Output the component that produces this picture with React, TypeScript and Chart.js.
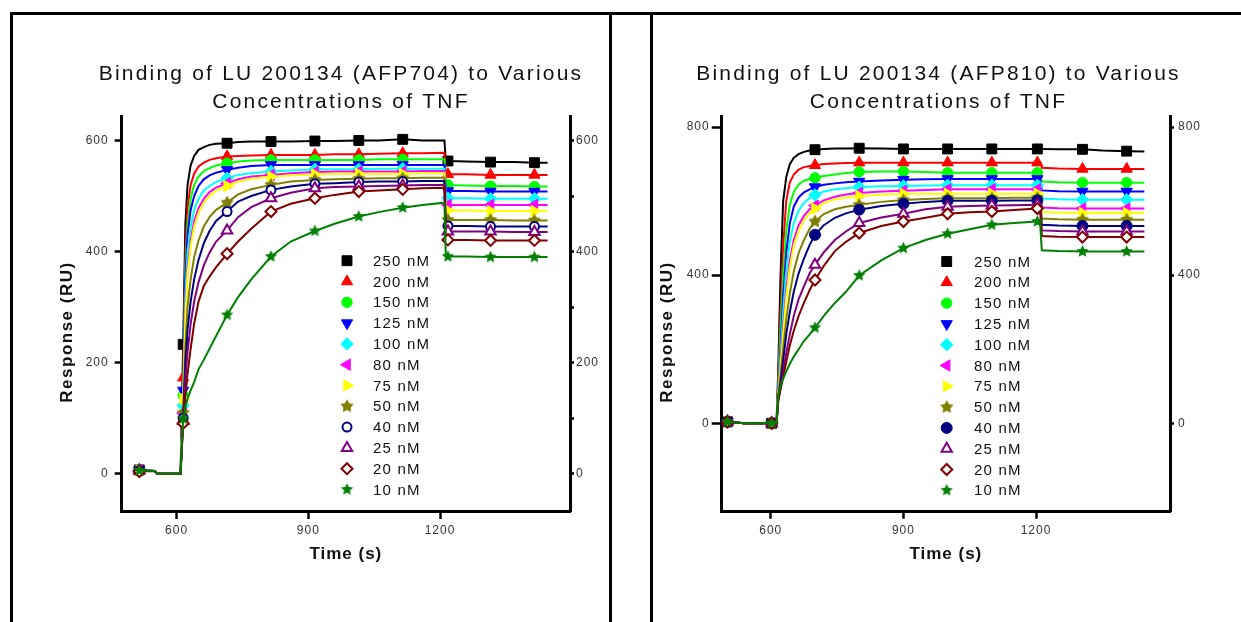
import React, { useEffect, useRef } from 'react';
import { Chart, registerables } from 'chart.js';
import { drawPoint } from 'chart.js/helpers';

Chart.register(...registerables);

const FONT = '"Liberation Sans", Arial, Helvetica, sans-serif';

// ---------- shared ----------
const concLabels = ['250 nM', '200 nM', '150 nM', '125 nM', '100 nM', '80 nM', '75 nM', '50 nM', '40 nM', '25 nM', '20 nM', '10 nM'];
const seriesColors = ['#000000', '#ff0000', '#00ff00', '#0000ff', '#00ffff', '#ff00ff', '#ffff00', '#808000', '#000080', '#800080', '#800000', '#008000'];
const xTickValues = [600, 900, 1200];
const xTitle = 'Time (s)';
const yTitle = 'Response (RU)';

// ---------- left chart: AFP704 ----------
const titleA = ['Binding of LU 200134 (AFP704) to Various', 'Concentrations of TNF'];
const timesA = [515, 550, 556, 609, 615, 620, 625, 632, 640, 650, 662, 675, 690, 715, 740, 770, 815, 860, 915, 960, 1015, 1060, 1115, 1160, 1210, 1213, 1218, 1260, 1315, 1370, 1415, 1445];
const markerTimesA = [515, 615, 715, 815, 915, 1015, 1115, 1218, 1315, 1415];
const a704_250 = [7, 5, 0, 0, 233, 450, 520, 555, 572, 583, 588, 592, 594, 595, 597, 598, 598, 598, 599, 599, 600, 600, 602, 600, 600, 565, 563, 562, 561, 561, 560, 560];
const a704_200 = [6, 5, 0, 0, 173, 400, 480, 520, 540, 553, 560, 565, 568, 571, 572, 573, 574, 574, 574, 575, 575, 576, 577, 577, 578, 541, 539, 539, 538, 538, 538, 538];
const a704_150 = [6, 5, 0, 0, 141, 370, 450, 495, 520, 535, 545, 550, 555, 559, 562, 564, 565, 565, 565, 565, 565, 566, 566, 566, 566, 522, 520, 519, 518, 518, 517, 517];
const a704_125 = [6, 5, 0, 0, 150, 350, 430, 475, 500, 518, 530, 537, 542, 547, 551, 554, 556, 556, 556, 556, 556, 556, 556, 556, 556, 511, 509, 509, 508, 508, 508, 508];
const a704_100 = [6, 5, 0, 0, 123, 320, 400, 445, 475, 495, 510, 518, 525, 532, 538, 541, 544, 546, 548, 548, 548, 549, 549, 549, 549, 498, 496, 496, 495, 495, 495, 495];
const a704_80 = [6, 5, 0, 0, 109, 290, 370, 420, 455, 478, 495, 507, 515, 523, 530, 535, 538, 541, 543, 544, 544, 544, 544, 545, 545, 486, 484, 484, 484, 484, 484, 484];
const a704_75 = [6, 5, 0, 0, 135, 280, 360, 410, 445, 470, 488, 500, 510, 518, 526, 531, 535, 537, 539, 540, 540, 540, 540, 541, 541, 476, 474, 474, 473, 473, 473, 473];
const a704_50 = [6, 5, 0, 0, 110, 230, 300, 350, 390, 420, 445, 462, 475, 488, 503, 512, 520, 526, 529, 530, 531, 532, 532, 533, 533, 459, 457, 457, 457, 456, 456, 456];
const a704_40 = [6, 5, 0, 0, 100, 200, 260, 310, 350, 385, 415, 437, 455, 472, 490, 500, 511, 517, 522, 523, 525, 526, 526, 527, 527, 448, 446, 446, 445, 445, 445, 445];
const a704_25 = [6, 5, 0, 0, 95, 170, 220, 270, 310, 345, 375, 398, 418, 438, 462, 480, 496, 506, 514, 516, 517, 518, 519, 520, 520, 438, 436, 436, 436, 435, 435, 435];
const a704_20 = [4, 5, 0, 0, 91, 140, 180, 225, 270, 310, 338, 355, 372, 396, 418, 441, 472, 486, 496, 502, 508, 510, 512, 514, 515, 423, 421, 421, 420, 420, 420, 420];
const a704_10 = [6, 5, 0, 0, 99, 120, 135, 150, 165, 188, 205, 225, 248, 286, 318, 350, 391, 418, 437, 450, 463, 471, 479, 484, 488, 393, 391, 391, 390, 390, 390, 390];
const yTicksA = [0, 200, 400, 600];
const y2TicksA = [0, 100, 200, 300, 400, 500, 600];
const y2LabelsA = [0, 200, 400, 600];

// ---------- right chart: AFP810 ----------
const titleB = ['Binding of LU 200134 (AFP810) to Various', 'Concentrations of TNF'];
const timesB = [502, 540, 602, 613, 617, 622, 628, 635, 643, 652, 663, 675, 688, 700, 720, 745, 770, 800, 850, 900, 950, 1000, 1050, 1100, 1150, 1203, 1209, 1213, 1250, 1305, 1350, 1405, 1445];
const markerTimesB = [502, 602, 700, 800, 900, 1000, 1100, 1203, 1305, 1405];
const b810_250 = [4, 0, 0, 0, 150, 400, 600, 665, 700, 717, 727, 733, 737, 739, 741, 742, 742, 743, 742, 741, 741, 741, 741, 741, 741, 741, 741, 741, 740, 740, 737, 735, 734];
const b810_200 = [4, 0, 0, 0, 120, 300, 480, 600, 650, 672, 685, 692, 695, 697, 700, 702, 703, 704, 704, 704, 704, 704, 704, 704, 704, 704, 704, 690, 688, 687, 687, 687, 687];
const b810_150 = [4, 0, 0, 0, 100, 250, 400, 520, 590, 625, 645, 655, 660, 663, 668, 672, 676, 679, 680, 680, 679, 677, 677, 677, 677, 677, 677, 653, 651, 650, 650, 650, 650];
const b810_125 = [4, 0, 0, 0, 90, 200, 340, 460, 540, 585, 610, 624, 632, 638, 644, 648, 651, 653, 656, 658, 659, 660, 660, 660, 660, 660, 660, 629, 627, 626, 626, 626, 626];
const b810_100 = [4, 0, 0, 0, 85, 180, 300, 410, 490, 540, 575, 595, 608, 617, 626, 632, 635, 638, 640, 641, 642, 643, 643, 643, 643, 643, 643, 607, 605, 604, 604, 604, 604];
const b810_80 = [4, 0, 0, 0, 80, 160, 260, 360, 440, 495, 535, 560, 578, 588, 602, 612, 618, 622, 626, 628, 630, 632, 632, 632, 632, 632, 632, 583, 581, 580, 580, 580, 580];
const b810_75 = [4, 0, 0, 0, 80, 150, 240, 340, 420, 480, 520, 548, 568, 580, 595, 605, 610, 614, 617, 620, 620, 620, 620, 620, 620, 620, 620, 571, 569, 568, 568, 568, 568];
const b810_50 = [4, 0, 0, 0, 75, 130, 200, 280, 350, 410, 460, 495, 525, 545, 565, 578, 585, 590, 598, 603, 606, 608, 608, 608, 609, 609, 609, 553, 551, 550, 550, 550, 550];
const b810_40 = [4, 0, 0, 0, 70, 110, 170, 240, 300, 355, 405, 445, 482, 509, 535, 555, 567, 577, 587, 593, 598, 601, 601, 601, 602, 602, 602, 536, 534, 533, 533, 533, 533];
const b810_25 = [4, 0, 0, 0, 65, 95, 140, 190, 240, 290, 335, 370, 405, 428, 462, 495, 518, 541, 556, 566, 578, 585, 587, 588, 589, 590, 590, 521, 519, 518, 518, 518, 518];
const b810_20 = [4, 0, 0, 0, 60, 90, 125, 165, 210, 250, 290, 325, 360, 387, 425, 465, 490, 514, 533, 545, 555, 566, 570, 572, 576, 580, 580, 506, 504, 503, 503, 503, 503];
const b810_10 = [4, 0, 0, 0, 77, 100, 120, 140, 160, 180, 200, 222, 240, 258, 290, 325, 355, 399, 440, 473, 495, 512, 524, 536, 541, 545, 545, 467, 465, 464, 464, 464, 464];
const yTicksB = [0, 400, 800];
const y2TicksB = [0, 400, 800];
const y2LabelsB = [0, 400, 800];

function makeStar(color: string, outer: number, inner: number) {
  const c = document.createElement('canvas');
  const s = Math.ceil(outer * 2 + 2);
  c.width = s;
  c.height = s;
  const g = c.getContext('2d')!;
  g.fillStyle = color;
  g.beginPath();
  for (let k = 0; k < 10; k++) {
    const r = k % 2 === 0 ? outer : inner;
    const a = -Math.PI / 2 + (k * Math.PI) / 5;
    const px = s / 2 + r * Math.cos(a);
    const py = s / 2 + r * Math.sin(a);
    if (k === 0) g.moveTo(px, py);
    else g.lineTo(px, py);
  }
  g.closePath();
  g.fill();
  return c;
}

type Mk = { s: any; rot: number; r: number; open: boolean };

function markerStyles(navyFilled: boolean): Mk[] {
  return [
    { s: 'rect', rot: 0, r: 7, open: false },
    { s: 'triangle', rot: 0, r: 6.5, open: false },
    { s: 'circle', rot: 0, r: 5.2, open: false },
    { s: 'triangle', rot: 180, r: 6.5, open: false },
    { s: 'rectRot', rot: 0, r: 6.2, open: false },
    { s: 'triangle', rot: -90, r: 6.5, open: false },
    { s: 'triangle', rot: 90, r: 6.5, open: false },
    { s: makeStar('#808000', 7, 3.8), rot: 0, r: 6, open: false },
    navyFilled ? { s: 'circle', rot: 0, r: 5.5, open: false } : { s: 'circle', rot: 0, r: 4.5, open: true },
    { s: 'triangle', rot: 0, r: 6, open: true },
    { s: 'rectRot', rot: 0, r: 5.5, open: true },
    { s: makeStar('#008000', 6.5, 3), rot: 0, r: 6, open: false },
  ];
}

type Spec = {
  times: number[];
  markers: number[];
  series: number[][];
  title: string[];
  xMin: number; xMax: number; yMin: number; yMax: number;
  yTicks: number[]; y2Ticks: number[]; y2Labels: number[];
  yWidth: number; y2Width: number; xHeight: number;
  yTick: number; yPad: number; y2Tick: number; y2Pad: number; xTick: number; xPad: number;
  titleX: number; yTitleX: number;
  legendMarkerX: number; legendTextX: number; legendY: number;
  navyFilled: boolean;
};

function decorPlugin(spec: Spec, styles: Mk[]) {
  return {
    id: 'decor',
    beforeDraw(chart: any) {
      chart.ctx.letterSpacing = '1px';
    },
    afterDraw(chart: any) {
      const ctx = chart.ctx;
      ctx.save();
      // main title
      ctx.font = `21px ${FONT}`;
      ctx.letterSpacing = '2.2px';
      ctx.fillStyle = '#111';
      ctx.textAlign = 'center';
      ctx.textBaseline = 'middle';
      spec.title.forEach((line, i) => ctx.fillText(line, spec.titleX, 74 + i * 28));
      // y axis title
      ctx.save();
      ctx.translate(spec.yTitleX, 332);
      ctx.rotate(-Math.PI / 2);
      ctx.font = `bold 17px ${FONT}`;
      ctx.letterSpacing = '1.5px';
      ctx.fillText(yTitle, 0, 0);
      ctx.restore();
      // inset legend
      ctx.font = `15px ${FONT}`;
      ctx.letterSpacing = '1.2px';
      ctx.textAlign = 'left';
      chart.data.datasets.forEach((ds: any, i: number) => {
        const y = spec.legendY + i * 20.8;
        const st = styles[i];
        ctx.fillStyle = st.open ? '#ffffff' : seriesColors[i];
        ctx.strokeStyle = seriesColors[i];
        ctx.lineWidth = st.open ? 2 : 1;
        drawPoint(ctx, { pointStyle: st.s, rotation: st.rot, radius: st.r, borderWidth: st.open ? 2 : 1 }, spec.legendMarkerX, y);
        ctx.fillStyle = '#111';
        ctx.fillText(ds.label, spec.legendTextX, y + 1);
      });
      ctx.restore();
    },
  };
}

function buildConfig(spec: Spec): any {
  const styles = markerStyles(spec.navyFilled);
  const datasets = spec.series.map((vals, i) => {
    const st = styles[i];
    return {
      label: concLabels[i],
      data: spec.times.map((t, k) => ({ x: t, y: vals[k] })),
      borderColor: seriesColors[i],
      backgroundColor: seriesColors[i],
      borderWidth: 2,
      tension: 0,
      pointStyle: st.s,
      pointRotation: st.rot,
      pointRadius: (c: any) => (c.raw && spec.markers.includes(c.raw.x) ? st.r : 0),
      pointHoverRadius: 0,
      pointBackgroundColor: st.open ? '#ffffff' : seriesColors[i],
      pointBorderColor: seriesColors[i],
      pointBorderWidth: st.open ? 2 : 1,
      order: 11 - i,
    };
  });
  const tickFont = { family: FONT, size: 12 };
  const axisCommon = (tickLength: number) => ({
    grid: { display: true, drawOnChartArea: false, drawTicks: true, tickLength, tickWidth: 2.5, tickColor: '#000', color: '#000' },
    border: { display: true, width: 3, color: '#000' },
  });
  return {
    type: 'line',
    data: { datasets },
    options: {
      responsive: false,
      animation: false,
      events: [],
      layout: { padding: { top: 116, left: 0, right: 0, bottom: 0 } },
      plugins: { legend: { display: false }, tooltip: { enabled: false }, title: { display: false } },
      scales: {
        x: {
          type: 'linear',
          position: 'bottom',
          min: spec.xMin,
          max: spec.xMax,
          afterBuildTicks: (s: any) => { s.ticks = xTickValues.map((v) => ({ value: v })); },
          afterFit: (s: any) => { s.height = spec.xHeight; },
          ticks: { font: tickFont, color: '#333', padding: spec.xPad, maxRotation: 0, autoSkip: false, callback: (v: any) => String(v) },
          ...axisCommon(spec.xTick),
          title: {
            display: true,
            text: xTitle,
            color: '#111',
            font: { family: FONT, size: 17, weight: 'bold', lineHeight: 1 },
            padding: { top: 0, bottom: 622 - 554 - 8.5 },
          },
        },
        y: {
          type: 'linear',
          position: 'left',
          min: spec.yMin,
          max: spec.yMax,
          afterBuildTicks: (s: any) => { s.ticks = spec.yTicks.map((v) => ({ value: v })); },
          afterFit: (s: any) => { s.width = spec.yWidth; },
          ticks: { font: tickFont, color: '#333', padding: spec.yPad, autoSkip: false, callback: (v: any) => String(v) },
          ...axisCommon(spec.yTick),
        },
        y2: {
          type: 'linear',
          position: 'right',
          display: true,
          min: spec.yMin,
          max: spec.yMax,
          afterBuildTicks: (s: any) => { s.ticks = spec.y2Ticks.map((v) => ({ value: v })); },
          afterFit: (s: any) => { s.width = spec.y2Width; },
          ticks: {
            font: tickFont,
            color: '#333',
            padding: spec.y2Pad,
            autoSkip: false,
            callback: (v: any) => (spec.y2Labels.includes(v) ? String(v) : ''),
          },
          ...axisCommon(spec.y2Tick),
        },
      },
    },
    plugins: [decorPlugin(spec, styles)],
  };
}

const specA: Spec = {
  times: timesA,
  markers: markerTimesA,
  series: [a704_250, a704_200, a704_150, a704_125, a704_100, a704_80, a704_75, a704_50, a704_40, a704_25, a704_20, a704_10],
  title: titleA,
  xMin: 475, xMax: 1496, yMin: -67, yMax: 644,
  yTicks: yTicksA, y2Ticks: y2TicksA, y2Labels: y2LabelsA,
  yWidth: 121.7, y2Width: 50, xHeight: 111,
  yTick: 7, yPad: 6, y2Tick: 4, y2Pad: 2, xTick: 8, xPad: 4,
  titleX: 341, yTitleX: 67,
  legendMarkerX: 347, legendTextX: 373, legendY: 260.7,
  navyFilled: false,
};

const specB: Spec = {
  times: timesB,
  markers: markerTimesB,
  series: [b810_250, b810_200, b810_150, b810_125, b810_100, b810_80, b810_75, b810_50, b810_40, b810_25, b810_20, b810_10],
  title: titleB,
  xMin: 489, xMax: 1503, yMin: -239, yMax: 830,
  yTicks: yTicksB, y2Ticks: y2TicksB, y2Labels: y2LabelsB,
  yWidth: 101.7, y2Width: 71, xHeight: 110.3,
  yTick: 10, yPad: 2, y2Tick: 4, y2Pad: 4, xTick: 7, xPad: 5,
  titleX: 318.5, yTitleX: 47.5,
  legendMarkerX: 326.7, legendTextX: 354, legendY: 261.5,
  navyFilled: true,
};

function SensorChart({ spec, left, width }: { spec: Spec; left: number; width: number }) {
  const ref = useRef<HTMLCanvasElement>(null);
  useEffect(() => {
    const chart = new Chart(ref.current as HTMLCanvasElement, buildConfig(spec));
    return () => chart.destroy();
  }, [spec]);
  return (
    <canvas
      ref={ref}
      width={width}
      height={622}
      style={{ position: 'absolute', left, top: 0, width, height: 622, display: 'block' }}
    />
  );
}

export default function App() {
  const line = (l: number, t: number, w: number, h: number) => (
    <div style={{ position: 'absolute', left: l, top: t, width: w, height: h, background: '#000' }} />
  );
  return (
    <div style={{ position: 'absolute', left: 0, top: 0, width: 1241, height: 622, overflow: 'hidden', background: '#fff' }}>
      {line(10, 12, 1231, 3)}
      {line(10, 12, 3, 610)}
      {line(609, 12, 3, 610)}
      {line(650, 12, 3, 610)}
      <SensorChart spec={specA} left={0} width={620} />
      <SensorChart spec={specB} left={620} width={621} />
    </div>
  );
}
